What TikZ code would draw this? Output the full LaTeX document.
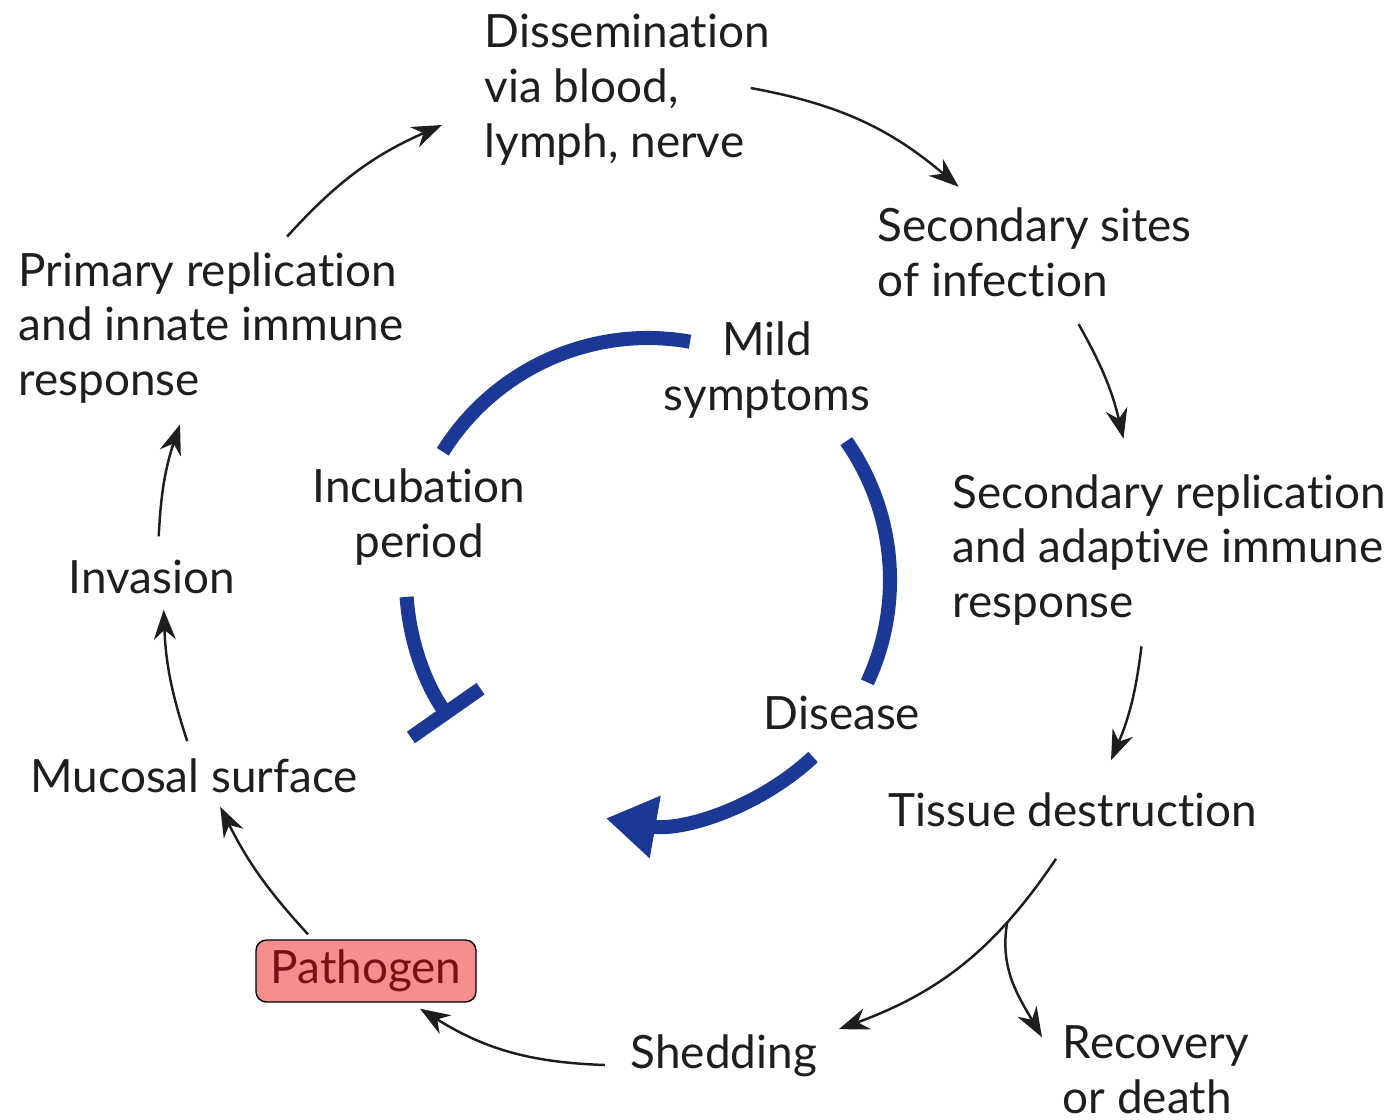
\documentclass[tikz,border=0pt]{standalone}
\usepackage{fontspec}
\setmainfont{Lato}[Ligatures=NoCommon]
\usetikzlibrary{arrows.meta}
\definecolor{arcblue}{RGB}{28,56,150}
\definecolor{germfill}{RGB}{246,142,142}
\definecolor{germtext}{RGB}{125,12,22}
\definecolor{ink}{RGB}{30,30,30}
\tikzstyle{every node}=[font=\fontsize{13.05}{15.6}\selectfont]
\tikzstyle{stage}=[inner sep=0pt, align=left, anchor=west, text=ink]
\tikzstyle{flow}=[->, line width=0.7pt, draw=ink]
\tikzstyle{phase}=[line width=4pt, draw=arcblue]
\tikzstyle{germ}=[draw, fill=germfill, text=germtext, rounded corners=3pt, minimum width=2.2cm, minimum height=0.62cm, inner sep=0pt]

\begin{document}
\begin{tikzpicture}[>={Stealth[length=3mm,width=2.2mm]}]
    \useasboundingbox (0,0) rectangle (13.92,11.19);
    \node[stage] (diss) at (4.84,10.29) {Dissemination\\via blood,\\lymph, nerve};
    \node[stage] (sites) at (8.77,8.67) {Secondary sites\\of infection};
    \node[stage] (prim) at (0.18,7.91) {Primary replication\\and innate immune\\response};
    \node[stage, align=center, anchor=center] (mild) at (7.67,7.49) {Mild\\symptoms};
    \node[stage, align=center, anchor=center] (incub) at (4.19,6.02) {Incubation\\period};
    \node[stage] (secrep) at (9.52,5.69) {Secondary replication\\and adaptive immune\\response};
    \node[stage] (inv) at (0.68,5.42) {Invasion};
    \node[stage] (dis) at (7.63,4.06) {Disease};
    \node[stage] (muc) at (0.30,3.43) {Mucosal surface};
    \node[stage] (tis) at (8.88,3.09) {Tissue destruction};
    \node[germ] (path) at (3.66,1.48) {Pathogen};
    \node[stage] (shed) at (6.30,0.63) {Shedding};
    \node[stage] (recov) at (10.62,0.49) {Recovery\\or death};

    \draw[flow] ([xshift=0.76cm,yshift=0.15cm]prim.north) to[bend left=12] ([xshift=-0.42cm,yshift=-0.35cm]diss.west);
    \draw[flow] ([xshift=-0.2cm,yshift=0.02cm]diss.east) to[bend left=15] ([xshift=-0.76cm,yshift=0.2cm]sites.north);
    \draw[flow] ([xshift=0.44cm,yshift=-0.27cm]sites.south) to[bend left=8] ([xshift=-0.46cm,yshift=0.35cm]secrep.north);
    \draw[flow] ([xshift=-0.28cm,yshift=-0.2cm]secrep.south) to[bend left=8] ([xshift=0.38cm,yshift=0.32cm]tis.north);
    \draw[flow] ([xshift=-0.17cm,yshift=-0.31cm]tis.south) to[bend left=18] coordinate[pos=0.27] (fork) ([xshift=1.15cm,yshift=0.05cm]shed.north);
    \draw[flow] (fork) to[out=-100, in=120] ([xshift=-0.2cm,yshift=-0.12cm]recov.north west);
    \draw[flow] ([xshift=-0.25cm,yshift=-0.09cm]shed.west) to[bend left=15] ([xshift=0.54cm,yshift=-0.06cm]path.south);
    \draw[flow] ([xshift=-0.58cm,yshift=0.05cm]path.north) to[bend left=8] ([xshift=0.26cm,yshift=-0.13cm]muc.south);
    \draw[flow] ([xshift=-0.07cm,yshift=0.17cm]muc.north) to[bend left=8] ([xshift=0.12cm,yshift=-0.15cm]inv.south);
    \draw[flow] ([xshift=0.07cm,yshift=0.23cm]inv.north) to[bend left=8] ([xshift=-0.31cm,yshift=-0.2cm]prim.south);

    \coordinate (hub) at (6.48,5.39);
    \draw[phase] ([shift={(148:2.42)}]hub) arc[start angle=148, end angle=80, radius=2.42];
    \draw[phase] ([shift={(35:2.42)}]hub) arc[start angle=35, end angle=-25, radius=2.42];
    \draw[phase, -{Bar[width=8.5mm]}] ([shift={(184:2.42)}]hub) arc[start angle=184, end angle=215, radius=2.42];
    \draw[phase, -{Triangle[length=5mm,width=6mm]}] ([shift={(-47:2.42)}]hub) arc[start angle=-47, end angle=-100, radius=2.42];
\end{tikzpicture}
\end{document}
